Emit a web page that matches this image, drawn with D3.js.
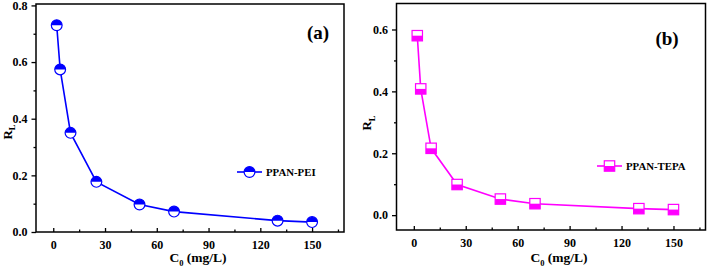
<!DOCTYPE html>
<html>
<head>
<meta charset="utf-8">
<script src="https://cdn.jsdelivr.net/npm/d3@7"></script>
<style>
  body { margin: 0; background: #fff; }
  svg text { font-family: "Liberation Serif", "Times New Roman", "DejaVu Serif", serif; font-weight: bold; }
</style>
</head>
<body>
<script>
// Data
const c0 = [2, 4, 10, 25, 50, 70, 130, 150];
const rlPEI = [0.730, 0.574, 0.350, 0.177, 0.097, 0.072, 0.040, 0.035];
const rlTEPA = [0.580, 0.408, 0.216, 0.099, 0.052, 0.037, 0.021, 0.018];
const xTicks = [0, 30, 60, 90, 120, 150];
const yTicksA = [0, 0.2, 0.4, 0.6, 0.8];
const yTicksB = [0, 0.2, 0.4, 0.6];

const serif = "'Liberation Serif', 'Times New Roman', serif";

const svg = d3.select("body").append("svg")
    .attr("width", 708)
    .attr("height", 268)
    .attr("font-family", serif);

function panel(opt) {
    const g = svg.append("g");
    const x = d3.scaleLinear().domain([-10, 168.5]).range([opt.left, opt.right]);
    const y = d3.scaleLinear().domain(opt.yDomain).range([opt.bottom, opt.top]);

    // frame
    g.append("rect")
        .attr("x", opt.left).attr("y", opt.top)
        .attr("width", opt.right - opt.left).attr("height", opt.bottom - opt.top)
        .attr("fill", "none").attr("stroke", "#000").attr("stroke-width", 1.5);

    // x axis: ticks point inward
    const xa = g.append("g")
        .attr("transform", "translate(0," + opt.bottom + ")")
        .call(d3.axisBottom(x).tickValues(xTicks).tickSize(-4).tickPadding(8).tickFormat(d3.format("d")))
        .attr("font-family", serif);
    xa.select(".domain").remove();
    xa.selectAll(".tick line").attr("stroke-width", 1.3);
    g.append("g")
        .attr("transform", "translate(0," + opt.bottom + ")")
        .call(d3.axisBottom(x).tickValues(d3.range(15, 170, 30)).tickSize(-2.5).tickFormat(""))
        .call(s => s.select(".domain").remove())
        .selectAll(".tick line").attr("stroke-width", 1.3);
    xa.selectAll("text").attr("font-size", 12).attr("fill", "#000");

    // y axis: ticks point outward
    const ya = g.append("g")
        .attr("transform", "translate(" + opt.left + ",0)")
        .call(d3.axisLeft(y).tickValues(opt.yTicks).tickSize(4.5).tickPadding(4).tickFormat(d3.format(".1f")))
        .attr("font-family", serif);
    ya.select(".domain").remove();
    ya.selectAll(".tick line").attr("stroke-width", 1.3);
    ya.selectAll("text").attr("font-size", 12).attr("fill", "#000");
    g.append("g")
        .attr("transform", "translate(" + opt.left + ",0)")
        .call(d3.axisLeft(y).tickValues(opt.yMinor).tickSize(2.5).tickFormat(""))
        .call(s => s.select(".domain").remove())
        .selectAll(".tick line").attr("stroke-width", 1.3);

    // axis titles
    const xt = g.append("text")
        .attr("x", (opt.left + opt.right) / 2 + 8)
        .attr("y", 262)
        .attr("text-anchor", "middle")
        .attr("font-size", 13.5);
    xt.append("tspan").text("C");
    xt.append("tspan").attr("font-size", 8.5).attr("dy", 3.5).text("0");
    xt.append("tspan").attr("dy", -3.5).text(" (mg/L)");

    const yt = g.append("text")
        .attr("transform", "translate(" + opt.yTitleX + "," + opt.yTitleY + ") rotate(-90)")
        .attr("text-anchor", "middle")
        .attr("font-size", 13);
    yt.append("tspan").text("R");
    yt.append("tspan").attr("font-size", 8.5).attr("dy", 3.5).text("L");

    // panel letter
    g.append("text")
        .attr("x", opt.letterX).attr("y", opt.letterY)
        .attr("text-anchor", "middle")
        .attr("font-size", 19)
        .text(opt.letter);

    // line
    const line = d3.line().x(d => x(d[0])).y(d => y(d[1]));
    const pts = c0.map((c, i) => [c, opt.values[i]]);
    g.append("path")
        .datum(pts)
        .attr("d", line)
        .attr("fill", "none")
        .attr("stroke", opt.color)
        .attr("stroke-width", 1.6);

    pts.forEach(p => opt.marker(g, x(p[0]), y(p[1])));

    // legend
    g.append("line")
        .attr("x1", opt.legX).attr("x2", opt.legX + 25)
        .attr("y1", opt.legY).attr("y2", opt.legY)
        .attr("stroke", opt.color).attr("stroke-width", 1.6);
    opt.marker(g, opt.legX + 12.5, opt.legY);
    g.append("text")
        .attr("x", opt.legX + 29).attr("y", opt.legY + 3.8)
        .attr("font-size", 10.8)
        .text(opt.name);
}

function circleMarker(g, cx, cy) {
    const r = 5.4;
    g.append("circle").attr("cx", cx).attr("cy", cy).attr("r", r).attr("fill", "#fff");
    g.append("path")
        .attr("d", "M" + (cx - r) + "," + cy + " A" + r + "," + r + " 0 0 1 " + (cx + r) + "," + cy + " Z")
        .attr("fill", "#0000ff");
    g.append("circle").attr("cx", cx).attr("cy", cy).attr("r", r)
        .attr("fill", "none").attr("stroke", "#0000ff").attr("stroke-width", 1.2);
}

function squareMarker(g, cx, cy) {
    const h = 5.2;
    g.append("rect").attr("x", cx - h).attr("y", cy - h).attr("width", 2 * h).attr("height", 2 * h).attr("fill", "#fff");
    g.append("rect").attr("x", cx - h).attr("y", cy).attr("width", 2 * h).attr("height", h).attr("fill", "#ff00ff");
    g.append("rect").attr("x", cx - h).attr("y", cy - h).attr("width", 2 * h).attr("height", 2 * h)
        .attr("fill", "none").attr("stroke", "#ff00ff").attr("stroke-width", 1.2);
}

panel({
    left: 36, right: 344, top: 4, bottom: 232,
    yDomain: [0, 0.805], yTicks: yTicksA, yMinor: [0.1, 0.3, 0.5, 0.7],
    yTitleX: 11.5, yTitleY: 132, letter: "(a)", letterX: 318, letterY: 39,
    values: rlPEI, color: "#0000ff", marker: circleMarker,
    legX: 237, legY: 172, name: "PPAN-PEI"
});

panel({
    left: 396.5, right: 705.5, top: 3.5, bottom: 230,
    yDomain: [-0.048, 0.684], yTicks: yTicksB, yMinor: [0.1, 0.3, 0.5],
    yTitleX: 371, yTitleY: 123, letter: "(b)", letterX: 667, letterY: 45,
    values: rlTEPA, color: "#ff00ff", marker: squareMarker,
    legX: 597, legY: 166, name: "PPAN-TEPA"
});
</script>
</body>
</html>
